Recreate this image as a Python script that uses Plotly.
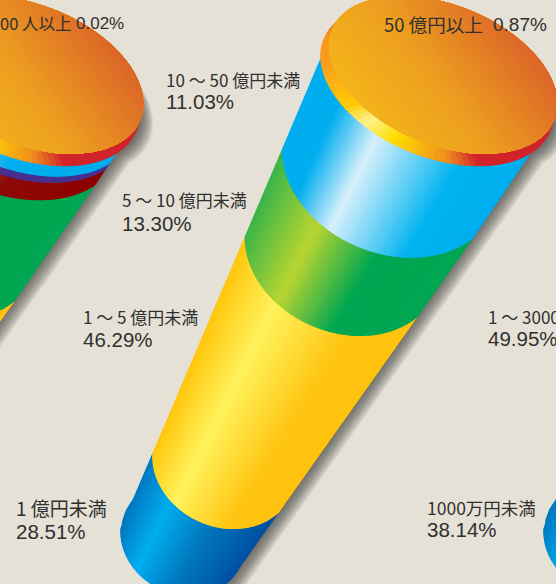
import math
import plotly.graph_objects as go

# ---------- data (stacked bottom -> top, percent) ----------
MAIN_CATEGORIES = ["1 億円未満", "1 ～ 5 億円未満", "5 ～ 10 億円未満", "10 ～ 50 億円未満", "50 億円以上"]
MAIN_VALUES = [28.51, 46.29, 13.30, 11.03, 0.87]
LEFT_CATEGORIES = ["(hidden a)", "(hidden b)", "(hidden c)", "(hidden d)", "(hidden e)", "00 人以上"]
LEFT_VALUES = [77.70, 17.60, 2.00, 0.70, 1.98, 0.02]
RIGHT_CATEGORIES = ["1000万円未満", "1 ～ 3000"]
RIGHT_VALUES = [38.14, 49.95]

BG = "#E5E1D6"
# gradient stops across the cylinder: (position, colour)
C_NAVY = [(0, "#0078C1"), (.27, "#00AEEF"), (.6, "#0078BE"), (1, "#0050A2")]
C_YELLOW = [(0, "#FFC60B"), (.3, "#FFF25C"), (.72, "#FFC512"), (1, "#FFC20E")]
C_GREEN = [(0, "#39B54A"), (.3, "#B9D531"), (.62, "#00A651"), (1, "#00A651")]
C_SKY = [(0, "#00AEEF"), (.15, "#00AEEF"), (.36, "#D8F0FC"), (.74, "#00B4F0"), (1, "#00AEEF")]
C_DARKRED = [(0, "#D9731F"), (.4, "#C0561D"), (.62, "#8E0A0A"), (1, "#8E0000")]
C_PURPLE = [(0, "#9A55A8"), (.4, "#7B3FA0"), (.6, "#46308F"), (1, "#46308F")]
C_LIGHT = [(0, "#9FE0F8"), (.4, "#6FCBF0"), (.6, "#00AEEF"), (1, "#00AEEF")]
MAIN_STYLES = [C_NAVY, C_YELLOW, C_GREEN, C_SKY]
LEFT_STYLES = [C_YELLOW, C_GREEN, C_DARKRED, C_PURPLE, C_LIGHT]
RIGHT_STYLES = [C_NAVY, C_YELLOW]

NARROW = "Liberation Sans Narrow, Noto Sans CJK JP"
WIDE = "Liberation Sans"
LABELS = [
    (MAIN_CATEGORIES[4], 385, 24, NARROW, 18.5), (f"{MAIN_VALUES[4]:.2f}%", 494, 24, WIDE, 19),
    (LEFT_CATEGORIES[5], 1, 23, NARROW, 16.5), (f"{LEFT_VALUES[5]:.2f}%", 77, 23, WIDE, 17),
    (MAIN_CATEGORIES[3], 167, 79, NARROW, 17), (f"{MAIN_VALUES[3]:.2f}%", 167, 101, WIDE, 20.5),
    (MAIN_CATEGORIES[2], 123, 199, NARROW, 17), (f"{MAIN_VALUES[2]:.2f}%", 123, 223, WIDE, 20.5),
    (MAIN_CATEGORIES[1], 84, 316, NARROW, 17), (f"{MAIN_VALUES[1]:.2f}%", 84, 339, WIDE, 20.5),
    (MAIN_CATEGORIES[0], 17, 507, NARROW, 19), (f"{MAIN_VALUES[0]:.2f}%", 17, 531, WIDE, 20.5),
    (RIGHT_CATEGORIES[1], 489, 316, NARROW, 17), (f"{RIGHT_VALUES[1]:.2f}%", 489, 338, WIDE, 20.5),
    (RIGHT_CATEGORIES[0], 428, 507, NARROW, 17.5), (f"{RIGHT_VALUES[0]:.2f}%", 428, 529, WIDE, 20.5),
]

# ---------- perspective cylinder model ----------
TOP = dict(cx=437, cy=85, a=122, ang=22, tr=24, tl=164)
LOW = dict(cx=224, cy=465, a=73, ang=25, tr=19, tl=161)
ROUNDNESS = [(0, 72), (.2, 85), (.45, 78), (1, 61), (1.3, 53)]
RIM_LEVEL = 99.13
FOOT_LEVEL = 6.0
STRIPS = 90


def frac(c):
    y = 545 - c / (.3522 - .001483 * c)
    return (y - 62) / 391


def geom(c):
    f = frac(c)
    g = {k: TOP[k] + (LOW[k] - TOP[k]) * f for k in TOP}
    g["b"] = ROUNDNESS[0][1]
    for (f0, b0), (f1, b1) in zip(ROUNDNESS, ROUNDNESS[1:]):
        if f0 <= f <= f1:
            g["b"] = b0 + (b1 - b0) * (f - f0) / (f1 - f0)
    return g


def point(g, th, dx, dy):
    t = math.radians(th)
    al = math.radians(g["ang"])
    u, v = g["a"] * math.cos(t), g["b"] * math.sin(t)
    return (g["cx"] + dx + u * math.cos(al) - v * math.sin(al),
            g["cy"] + dy + u * math.sin(al) + v * math.cos(al))


def hexrgb(h):
    return tuple(int(h[i:i + 2], 16) for i in (1, 3, 5))


def ramp(stops, t):
    t = max(stops[0][0], min(stops[-1][0], t))
    for (p0, c0), (p1, c1) in zip(stops, stops[1:]):
        if t <= p1:
            w = (t - p0) / (p1 - p0) if p1 > p0 else 0
            a, b = hexrgb(c0), hexrgb(c1)
            return "rgb(%d,%d,%d)" % tuple(round(a[i] + (b[i] - a[i]) * w) for i in range(3))
    return stops[-1][1]


fig = go.Figure()


def poly(pts, color, lw=1.6):
    xs = [p[0] for p in pts] + [pts[0][0]]
    ys = [p[1] for p in pts] + [pts[0][1]]
    fig.add_trace(go.Scatter(x=xs, y=ys, mode="lines", fill="toself", fillcolor=color,
                             line=dict(color=color, width=lw), hoverinfo="skip", showlegend=False))


def ellipse_pts(g, dx, dy, n=160):
    return [point(g, 360 * i / n, dx, dy) for i in range(n)]


def nested(pts, direction, stops, n=48):
    """Paint a convex outline with a linear gradient by nested polygons."""
    pr = [p[0] * direction[0] + p[1] * direction[1] for p in pts]
    lo, hi = min(pr), max(pr)
    for i in range(n):
        cut = lo + (hi - lo) * i / n
        keep = [p for p, q in zip(pts, pr) if q >= cut]
        if len(keep) > 2:
            poly(keep, ramp(stops, (i + .5) / n), 0)


RIM_STOPS = [(0, "#D2232A"), (55, "#D2232A"), (72, "#F0901E"), (100, "#FFDD00"), (117, "#FFF38D"),
             (130, "#FFCB05"), (160, "#F9A01B"), (185, "#F7931E"), (212, "#D2232A"), (360, "#D2232A")]
FACE_STOPS = [(0, "#F4B41A"), (.45, "#EC9E20"), (1, "#DC6528")]


def cylinder(values, styles, dx, dy):
    rim = geom(RIM_LEVEL)
    foot = geom(FOOT_LEVEL)
    # soft shadow from the silhouette
    a0 = [point(rim, rim["tl"] + (360 + rim["tr"] - rim["tl"]) * i / 80, dx, dy) for i in range(81)]
    a1 = [point(foot, foot["tr"] + (foot["tl"] - foot["tr"]) * i / 60, dx, dy) for i in range(61)]
    sil = a0 + a1
    for k in range(12, 0, -1):
        off = k * 1.4
        poly([(x + off * .82, y + off * .57) for x, y in sil], "rgba(62,58,54,0.085)", 0)
    # foot disc
    al = math.radians(foot["ang"])
    nested(ellipse_pts(foot, dx, dy), (math.cos(al), math.sin(al)), styles[0])
    # stacked bands, bottom first
    cum = 0.0
    for i, st in enumerate(styles):
        lo = max(cum, FOOT_LEVEL)
        cum += values[i]
        hi = min(cum, RIM_LEVEL)
        g0, g1 = geom(lo), geom(hi)
        for s in range(STRIPS):
            u0, u1 = s / STRIPS, (s + 1) / STRIPS
            pts = []
            for g, us in ((g1, (u0, u1)), (g0, (u1, u0))):
                for u in us:
                    pts.append(point(g, g["tl"] + (g["tr"] - g["tl"]) * u, dx, dy))
            um = (u0 + u1) / 2
            th = g0["tl"] + (g0["tr"] - g0["tl"]) * um
            t = (math.cos(math.radians(g0["tl"])) - math.cos(math.radians(th))) / (
                math.cos(math.radians(g0["tl"])) - math.cos(math.radians(g0["tr"])))
            poly(pts, ramp(st, t))
    # rim and face
    n = 120
    for i in range(n):
        t0, t1 = 360 * i / n, 360 * (i + 1) / n
        pts = [(rim["cx"] + dx, rim["cy"] + dy), point(rim, t0, dx, dy),
               point(rim, (t0 + t1) / 2, dx, dy), point(rim, t1, dx, dy)]
        poly(pts, ramp(RIM_STOPS, (t0 + t1) / 2), 1)
    face = dict(rim)
    face.update(cx=rim["cx"] + 6, cy=rim["cy"] - 10, a=120, b=70)
    nested(ellipse_pts(face, dx, dy), (.8, -.6), FACE_STOPS)


cylinder(LEFT_VALUES, LEFT_STYLES, -414, 0)
cylinder(MAIN_VALUES, MAIN_STYLES, 0, 0)
cylinder(RIGHT_VALUES, RIGHT_STYLES, 423, 0)

for text, x, y, fam, size in LABELS:
    fig.add_annotation(x=x, y=y, text=text, showarrow=False, xanchor="left", yanchor="middle",
                       xref="x", yref="y", xshift=-2, borderpad=0,
                       font=dict(family=fam, size=size, color="#303030"))

fig.update_layout(
    width=556, height=584, margin=dict(l=0, r=0, t=0, b=0),
    paper_bgcolor=BG, plot_bgcolor=BG, showlegend=False,
    xaxis=dict(range=[0, 556], visible=False, fixedrange=True),
    yaxis=dict(range=[584, 0], visible=False, fixedrange=True),
)
fig.write_html("out.html", config=dict(displayModeBar=False),
               post_script="document.body.style.margin='0';document.body.style.overflow='hidden';"
                           "document.body.style.background='" + BG + "';")
